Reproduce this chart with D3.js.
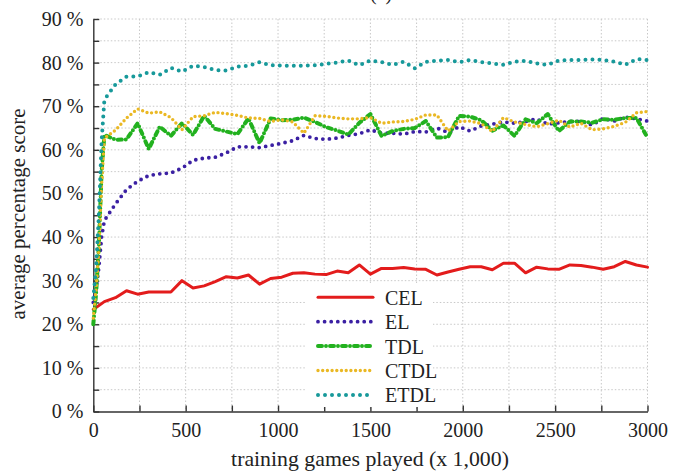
<!DOCTYPE html>
<html>
<head>
<meta charset="utf-8">
<script src="https://cdn.jsdelivr.net/npm/d3@7"></script>
<style>
  body { margin: 0; background: #fff; }
  text { font-family: "Liberation Serif", "DejaVu Serif", serif; fill: #222; }
</style>
</head>
<body>
<div id="graph"></div>
<script>
// data (training games in thousands, scores in percent)
var gamesCEL = [0, 60, 120, 180, 240, 300, 360, 420, 480, 540, 600, 660, 720, 780, 840, 900, 960, 1020,
  1080, 1140, 1200, 1260, 1320, 1380, 1440, 1500, 1560, 1620, 1680, 1740, 1800, 1860, 1920, 1980,
  2040, 2100, 2160, 2220, 2280, 2340, 2400, 2460, 2520, 2580, 2640, 2700, 2760, 2820, 2880, 2940, 3000];
var gamesTD = [0, 15, 30, 45, 60, 120, 180, 240, 300, 360, 420, 480, 540, 600, 660, 720, 780, 840, 900, 960, 1020,
  1080, 1140, 1200, 1260, 1320, 1380, 1440, 1500, 1560, 1620, 1680, 1740, 1800, 1860, 1920, 1980,
  2040, 2100, 2160, 2220, 2280, 2340, 2400, 2460, 2520, 2580, 2640, 2700, 2760, 2820, 2880, 2940, 3000];

var cel = [23.4, 25.2, 26.1, 27.7, 26.9, 27.4, 27.4, 27.4, 30.0, 28.3, 28.8, 29.8, 30.9, 30.6, 31.3, 29.2,
  30.5, 30.8, 31.7, 31.8, 31.5, 31.4, 32.2, 31.8, 33.6, 31.5, 32.8, 32.8, 33.0, 32.7, 32.6, 31.3, 32.0,
  32.6, 33.2, 33.2, 32.5, 34.0, 34.0, 31.8, 33.1, 32.7, 32.6, 33.6, 33.5, 33.1, 32.6, 33.2, 34.4, 33.6, 33.1];
var el = [25, 28, 33, 40, 43.8, 47.6, 50.9, 52.8, 54.1, 54.5, 54.7, 55.8, 57.6, 58.1, 58.3, 59.3, 60.7, 60.7,
  60.5, 61.0, 61.5, 62.1, 63.3, 62.6, 62.4, 62.7, 63.3, 63.7, 64.6, 63.8, 63.8, 63.6, 64.2, 64.1, 65.0,
  64.0, 65.3, 64.3, 65.5, 65.9, 66.4, 66.1, 66.5, 67.1, 65.9, 66.2, 66.5, 66.5, 65.7, 67.2, 66.6, 67.5, 67.1, 66.6];
var tdl = [20, 27, 38, 55, 63.4, 62.3, 62.4, 66.1, 60.2, 65.3, 63.2, 66.1, 63.4, 67.8, 64.8, 64.2, 63.6, 67.2,
  61.5, 67.2, 66.8, 66.9, 67.4, 66.4, 65.2, 64.4, 63.5, 66.2, 68.2, 63.2, 64.3, 64.8, 65.0, 66.6, 62.8,
  62.9, 67.8, 67.6, 66.8, 64.4, 65.6, 63.2, 67.0, 66.1, 68.2, 64.3, 66.5, 66.5, 66.2, 67.0, 66.9, 67.3, 67.3, 62.8];
var ctdl = [21.4, 28, 37, 52, 62.7, 64.5, 67.3, 69.4, 68.4, 68.7, 67.4, 64.6, 67.6, 67.8, 68.6, 68.3, 67.9, 67.3,
  67.2, 66.5, 66.9, 66.4, 63.8, 67.8, 67.7, 67.3, 67.1, 67.1, 67.4, 66.1, 66.4, 66.5, 67.0, 68.0, 68.0,
  64.3, 66.5, 66.6, 66.0, 64.2, 67.4, 66.4, 65.8, 65.3, 66.0, 66.8, 65.2, 66.1, 64.6, 64.8, 65.4, 66.3, 68.5, 68.8];
var etdl = [26, 33, 45, 62, 71.5, 75.0, 76.8, 76.8, 77.8, 77.2, 78.8, 77.9, 79.3, 79.0, 78.3, 78.2, 79.1, 79.3,
  80.1, 79.4, 79.3, 79.3, 79.3, 79.4, 79.7, 80.0, 80.5, 79.4, 80.5, 80.1, 79.5, 80.2, 78.7, 80.2, 80.4,
  80.6, 80.1, 80.6, 80.1, 79.8, 79.5, 80.2, 80.4, 79.8, 79.5, 80.5, 80.6, 80.6, 80.7, 80.6, 80.2, 79.5, 80.8, 80.6];

var seriesNames = ["CEL", "EL", "TDL", "CTDL", "ETDL"];
var yTicks = [0, 5, 10, 15, 20, 25, 30, 35, 40, 45, 50, 55, 60, 65, 70, 75, 80, 85, 90];
var xTicks = [0, 250, 500, 750, 1000, 1250, 1500, 1750, 2000, 2250, 2500, 2750, 3000];

// measurements
var width = 687;
var height = 473;
var plot = { left: 93.3, right: 647.5, top: 19, bottom: 411.5 };

var styles = {
  CEL:  { color: "#e31c1c", width: 3,   dash: null },
  EL:   { color: "#3b20a3", width: 3.8, dash: "0 6.6" },
  TDL:  { color: "#22b11f", width: 4,   dash: "4 4 0 4" },
  CTDL: { color: "#eab824", width: 3.4, dash: "0 4.7" },
  ETDL: { color: "#17999a", width: 4,   dash: "0 7" }
};

var series = [
  { name: "CEL", xs: gamesCEL, ys: cel },
  { name: "EL", xs: gamesTD, ys: el },
  { name: "TDL", xs: gamesTD, ys: tdl },
  { name: "CTDL", xs: gamesTD, ys: ctdl },
  { name: "ETDL", xs: gamesTD, ys: etdl }
];

var chart = d3.select("#graph").append("svg")
  .attr("width", width)
  .attr("height", height);

var xScale = d3.scaleLinear().domain([0, 3000]).range([plot.left, plot.right]);
var yScale = d3.scaleLinear().domain([0, 90]).range([plot.bottom, plot.top]);

// grid
chart.append("g").selectAll("line")
  .data(yTicks.slice(1))
  .enter().append("line")
    .attr("x1", plot.left).attr("x2", plot.right)
    .attr("y1", function (d) { return yScale(d); })
    .attr("y2", function (d) { return yScale(d); })
    .style("stroke", "#c8c8c8").style("stroke-width", 1).style("stroke-dasharray", "1.5 2");
chart.append("g").selectAll("line")
  .data(xTicks.slice(1))
  .enter().append("line")
    .attr("y1", plot.top).attr("y2", plot.bottom)
    .attr("x1", function (d) { return xScale(d); })
    .attr("x2", function (d) { return xScale(d); })
    .style("stroke", "#c8c8c8").style("stroke-width", 1).style("stroke-dasharray", "1.5 2");

// axes
var yAxis = d3.axisLeft(yScale)
  .tickValues(yTicks)
  .tickSizeInner(-6)
  .tickSizeOuter(0)
  .tickPadding(10)
  .tickFormat(function (d) { return d % 10 === 0 ? d + " %" : ""; });
var xAxis = d3.axisBottom(xScale)
  .tickValues(xTicks)
  .tickSizeInner(-6)
  .tickSizeOuter(0)
  .tickPadding(11)
  .tickFormat(function (d) { return d % 500 === 0 ? d : ""; });

chart.append("g")
  .attr("transform", "translate(" + plot.left + ",0)")
  .call(yAxis);
chart.append("g")
  .attr("transform", "translate(0," + plot.bottom + ")")
  .call(xAxis);
chart.selectAll(".domain, .tick line").style("stroke", "#333").style("stroke-width", 1.4);
chart.selectAll(".tick text")
  .style("font-family", "'Liberation Serif', serif")
  .style("font-size", "20px")
  .style("fill", "#222");

// lines
var plotArea = chart.append("g");
series.forEach(function (s) {
  var pts = s.xs.map(function (x, i) { return [x, s.ys[i]]; });
  var line = d3.line()
    .x(function (d) { return xScale(d[0]); })
    .y(function (d) { return yScale(d[1]); });
  var st = styles[s.name];
  plotArea.append("path")
    .datum(pts)
    .attr("d", line)
    .style("fill", "none")
    .style("stroke", st.color)
    .style("stroke-width", st.width)
    .style("stroke-linecap", "round")
    .style("stroke-linejoin", "round")
    .style("stroke-dasharray", st.dash);
});

// legend
var legend = chart.append("g");
legend.append("rect")
  .attr("x", 305).attr("y", 283).attr("width", 128).attr("height", 124)
  .style("fill", "#fff");
seriesNames.forEach(function (name, i) {
  var st = styles[name];
  var ly = 297.3 + i * 24.4;
  legend.append("line")
    .attr("x1", 318).attr("x2", 373)
    .attr("y1", ly).attr("y2", ly)
    .style("stroke", st.color)
    .style("stroke-width", st.width)
    .style("stroke-linecap", "round")
    .style("stroke-dasharray", st.dash);
  legend.append("text")
    .attr("x", 385).attr("y", ly + 7.5)
    .style("font-size", "20px")
    .text(name);
});

// labels
chart.append("text")
  .attr("text-anchor", "middle")
  .attr("x", 370).attr("y", 466)
  .style("font-size", "21.8px")
  .text("training games played (x 1,000)");
chart.append("text")
  .attr("text-anchor", "middle")
  .attr("transform", "translate(25,214) rotate(-90)")
  .style("font-size", "21px")
  .text("average percentage score");
chart.append("text")
  .attr("text-anchor", "middle")
  .attr("x", 381).attr("y", 0)
  .style("font-size", "20px")
  .text("(a)");
</script>
</body>
</html>
